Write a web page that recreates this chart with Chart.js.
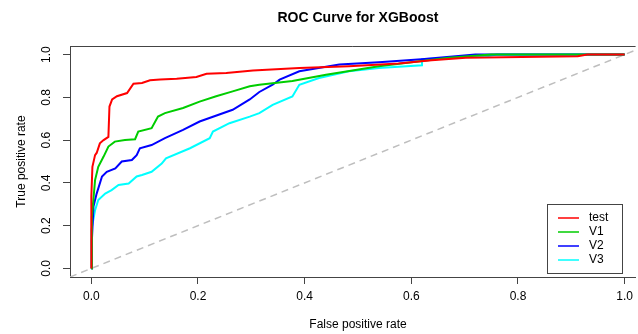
<!DOCTYPE html>
<html>
<head>
<meta charset="utf-8">
<script src="https://cdn.jsdelivr.net/npm/chart.js@4.4.1/dist/chart.umd.min.js"></script>
<style>
  html, body { margin: 0; padding: 0; background: #fff; }
</style>
</head>
<body>
<canvas id="roc" width="638" height="334"></canvas>
<script>
// ROC curves (false positive rate -> true positive rate)
const testFpr = [0, 0, 0.002, 0.007, 0.01, 0.016, 0.023, 0.032, 0.034, 0.039, 0.048, 0.067, 0.079, 0.095, 0.11, 0.129, 0.16, 0.197, 0.216, 0.253, 0.303, 0.39, 0.483, 0.576, 0.638, 0.702, 0.912, 0.93, 1];
const testTpr = [0, 0.335, 0.475, 0.53, 0.54, 0.585, 0.6, 0.615, 0.757, 0.79, 0.805, 0.82, 0.864, 0.867, 0.88, 0.883, 0.887, 0.895, 0.91, 0.914, 0.926, 0.937, 0.945, 0.958, 0.973, 0.985, 0.992, 1, 1];

const v1Fpr = [0, 0.001, 0.007, 0.013, 0.023, 0.032, 0.044, 0.063, 0.082, 0.088, 0.113, 0.125, 0.138, 0.172, 0.203, 0.234, 0.265, 0.297, 0.315, 0.377, 0.44, 0.539, 0.67, 0.75, 1];
const v1Tpr = [0, 0.24, 0.413, 0.475, 0.523, 0.57, 0.593, 0.6, 0.604, 0.64, 0.656, 0.71, 0.726, 0.75, 0.78, 0.805, 0.828, 0.852, 0.859, 0.876, 0.906, 0.945, 0.985, 1, 1];

const v2Fpr = [0, 0.001, 0.004, 0.01, 0.02, 0.029, 0.045, 0.057, 0.076, 0.085, 0.091, 0.113, 0.138, 0.172, 0.203, 0.265, 0.297, 0.315, 0.34, 0.353, 0.39, 0.465, 0.539, 0.619, 0.72, 1];
const v2Tpr = [0, 0.13, 0.29, 0.35, 0.43, 0.452, 0.468, 0.5, 0.507, 0.53, 0.562, 0.577, 0.609, 0.648, 0.687, 0.742, 0.79, 0.825, 0.859, 0.883, 0.922, 0.953, 0.964, 0.978, 1, 1];

const v3Fpr = [0, 0, 0.007, 0.013, 0.026, 0.038, 0.051, 0.07, 0.085, 0.095, 0.113, 0.132, 0.14, 0.185, 0.222, 0.228, 0.259, 0.297, 0.315, 0.34, 0.377, 0.39, 0.427, 0.483, 0.539, 0.62, 0.62, 0.745, 0.76, 1];
const v3Tpr = [0, 0.178, 0.272, 0.32, 0.35, 0.366, 0.39, 0.397, 0.43, 0.437, 0.452, 0.49, 0.515, 0.562, 0.609, 0.64, 0.679, 0.71, 0.726, 0.765, 0.804, 0.859, 0.89, 0.922, 0.937, 0.95, 0.978, 0.993, 1, 1];

const seriesNames = ['test', 'V1', 'V2', 'V3'];
const chanceLine = [-0.04, 1.04];
const xTicks = [0, 0.2, 0.4, 0.6, 0.8, 1.0];
const yTicks = [0, 0.2, 0.4, 0.6, 0.8, 1.0];

const FONT = "'Liberation Sans', Arial, Helvetica, sans-serif";
const AXIS = '#444';

function pts(xs, ys) {
  return xs.map((x, i) => ({ x: x, y: ys[i] }));
}

function curve(label, xs, ys, color) {
  return {
    label: label,
    data: pts(xs, ys),
    borderColor: color,
    backgroundColor: color,
    borderWidth: 2,
    pointRadius: 0,
    tension: 0,
    fill: false
  };
}

const datasets = [
  curve(seriesNames[0], testFpr, testTpr, '#ff0000'),
  curve(seriesNames[1], v1Fpr, v1Tpr, '#00cd00'),
  curve(seriesNames[2], v2Fpr, v2Tpr, '#0000ff'),
  curve(seriesNames[3], v3Fpr, v3Tpr, '#00ffff'),
  {
    label: 'chance',
    data: pts(chanceLine, chanceLine),
    borderColor: '#bebebe',
    borderWidth: 1.5,
    borderDash: [7, 5],
    pointRadius: 0,
    fill: false
  }
];

// R-style decorations: title, top frame line, rotated y labels, axis titles, legend box
const rDecor = {
  id: 'rDecor',
  afterDraw(chart) {
    const ctx = chart.ctx;
    const a = chart.chartArea;
    const xs = chart.scales.x, ys = chart.scales.y;
    ctx.save();

    ctx.strokeStyle = AXIS;
    ctx.lineWidth = 1;
    ctx.beginPath();
    ctx.moveTo(a.left, a.top + 0.5);
    ctx.lineTo(a.right, a.top + 0.5);
    ctx.stroke();

    ctx.fillStyle = '#000';
    ctx.textAlign = 'center';
    ctx.textBaseline = 'middle';
    const midX = xs.getPixelForValue(0.5);

    ctx.font = 'bold 14px ' + FONT;
    ctx.fillText('ROC Curve for XGBoost', midX, 18);

    ctx.font = '12px ' + FONT;
    ctx.fillText('False positive rate', midX, 325);

    yTicks.forEach(v => {
      ctx.save();
      ctx.translate(47, ys.getPixelForValue(v));
      ctx.rotate(-Math.PI / 2);
      ctx.fillText(v.toFixed(1), 0, 0);
      ctx.restore();
    });

    ctx.save();
    ctx.translate(22, (a.top + a.bottom) / 2);
    ctx.rotate(-Math.PI / 2);
    ctx.fillText('True positive rate', 0, 0);
    ctx.restore();

    // legend
    const bx = 547, by = 204, bw = 75, bh = 69;
    ctx.fillStyle = '#fff';
    ctx.fillRect(bx, by, bw, bh);
    ctx.strokeStyle = AXIS;
    ctx.strokeRect(bx + 0.5, by + 0.5, bw, bh);
    ctx.textAlign = 'left';
    seriesNames.forEach((name, i) => {
      const ly = by + 14 + i * 14;
      ctx.strokeStyle = chart.data.datasets[i].borderColor;
      ctx.lineWidth = 1.5;
      ctx.beginPath();
      ctx.moveTo(558, ly);
      ctx.lineTo(579, ly);
      ctx.stroke();
      ctx.fillStyle = '#000';
      ctx.fillText(name, 589, ly);
    });

    ctx.restore();
  }
};

new Chart(document.getElementById('roc'), {
  type: 'line',
  data: { datasets: datasets },
  options: {
    responsive: false,
    animation: false,
    layout: { padding: { top: 46, left: 0, right: 0, bottom: 0 } },
    plugins: {
      legend: { display: false },
      tooltip: { enabled: false }
    },
    scales: {
      x: {
        type: 'linear',
        min: -0.04,
        max: 1.0205,
        afterBuildTicks: s => { s.ticks = xTicks.map(v => ({ value: v })); },
        afterFit: s => { s.height = 57; },
        grid: { drawOnChartArea: false, tickLength: 7, color: AXIS },
        border: { display: true, color: AXIS },
        ticks: {
          color: '#000',
          padding: 5,
          maxRotation: 0,
          font: { family: FONT, size: 12 },
          callback: v => v.toFixed(1)
        }
      },
      y: {
        type: 'linear',
        min: -0.04,
        max: 1.04,
        afterBuildTicks: s => { s.ticks = yTicks.map(v => ({ value: v })); },
        afterFit: s => { s.width = 70; },
        grid: { drawOnChartArea: false, tickLength: 7, color: AXIS },
        border: { display: true, color: AXIS },
        ticks: { color: 'rgba(0,0,0,0)', font: { family: FONT, size: 12 } }
      }
    }
  },
  plugins: [rDecor]
});
</script>
</body>
</html>
